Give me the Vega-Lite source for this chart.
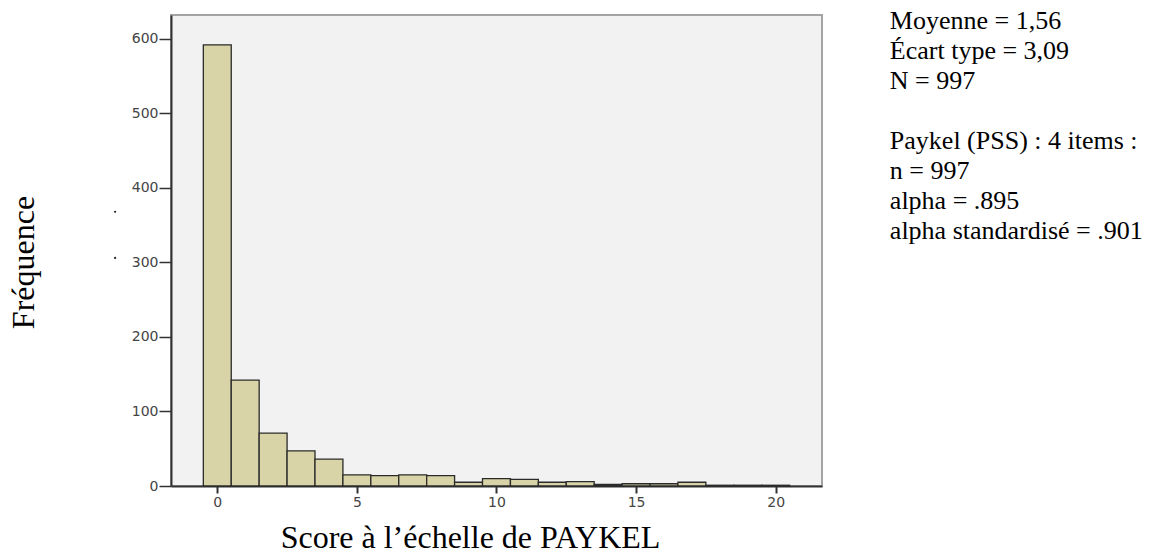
{
  "$schema": "https://vega.github.io/schema/vega-lite/v6.json",
  "autosize": {"type": "none"},
  "padding": {"left": 171, "top": 15, "right": 332, "bottom": 67},
  "width": 651,
  "height": 471,
  "background": "white",
  "config": {"view": {"fill": "#f2f2f2", "stroke": "#a3a3a3", "strokeWidth": 2}},
  "title": {"text": "Histogram", "font": "DejaVu Sans", "fontSize": 20, "fontWeight": "bold", "color": "#222", "anchor": "middle", "frame": "group", "dx": 60, "offset": 7, "baseline": "alphabetic"},
  "datasets": {
    "hist": [
      {"score": 0, "lo": -0.5, "hi": 0.5, "n": 592},
      {"score": 1, "lo": 0.5, "hi": 1.5, "n": 142},
      {"score": 2, "lo": 1.5, "hi": 2.5, "n": 71},
      {"score": 3, "lo": 2.5, "hi": 3.5, "n": 47},
      {"score": 4, "lo": 3.5, "hi": 4.5, "n": 36},
      {"score": 5, "lo": 4.5, "hi": 5.5, "n": 15},
      {"score": 6, "lo": 5.5, "hi": 6.5, "n": 14},
      {"score": 7, "lo": 6.5, "hi": 7.5, "n": 15},
      {"score": 8, "lo": 7.5, "hi": 8.5, "n": 14},
      {"score": 9, "lo": 8.5, "hi": 9.5, "n": 5},
      {"score": 10, "lo": 9.5, "hi": 10.5, "n": 10},
      {"score": 11, "lo": 10.5, "hi": 11.5, "n": 9},
      {"score": 12, "lo": 11.5, "hi": 12.5, "n": 5},
      {"score": 13, "lo": 12.5, "hi": 13.5, "n": 6},
      {"score": 14, "lo": 13.5, "hi": 14.5, "n": 2},
      {"score": 15, "lo": 14.5, "hi": 15.5, "n": 3},
      {"score": 16, "lo": 15.5, "hi": 16.5, "n": 3},
      {"score": 17, "lo": 16.5, "hi": 17.5, "n": 5},
      {"score": 18, "lo": 17.5, "hi": 18.5, "n": 1},
      {"score": 19, "lo": 18.5, "hi": 19.5, "n": 1},
      {"score": 20, "lo": 19.5, "hi": 20.5, "n": 1}
    ],
    "dots": [
      {"x": -3.66, "y": 368},
      {"x": -3.66, "y": 306}
    ],
    "stats": [
      {"line": 0, "label": "Moyenne = 1,56"},
      {"line": 1, "label": "Écart type = 3,09"},
      {"line": 2, "label": "N = 997"},
      {"line": 4, "label": "Paykel (PSS) : 4 items :"},
      {"line": 5, "label": "n = 997"},
      {"line": 6, "label": "alpha = .895"},
      {"line": 7, "label": "alpha standardisé = .901"}
    ]
  },
  "layer": [
    {
      "layer": [
        {
          "data": {"name": "hist"},
          "mark": {"type": "rect", "fill": "#d8d4a7", "stroke": "#2b2b2b", "strokeWidth": 1.3},
          "encoding": {
            "x": {
              "field": "lo", "type": "quantitative",
              "scale": {"domain": [-1.658, 21.66], "nice": false, "zero": false},
              "axis": {
                "values": [0, 5, 10, 15, 20], "format": "d",
                "title": "Score à l’échelle de PAYKEL",
                "titleFont": "Liberation Serif", "titleFontSize": 32, "titleFontWeight": "normal", "titleColor": "#000",
                "titleX": 299, "titleY": 61, "titleAlign": "center", "titleBaseline": "alphabetic",
                "labelFont": "DejaVu Sans", "labelFontSize": 14, "labelColor": "#444", "labelPadding": 2,
                "tickSize": 7, "tickWidth": 2, "tickColor": "#333",
                "domainColor": "#333", "domainWidth": 2, "grid": false, "labelFlush": false
              }
            },
            "x2": {"field": "hi"},
            "y": {
              "field": "n", "type": "quantitative",
              "scale": {"domain": [0, 632], "nice": false},
              "axis": {
                "values": [0, 100, 200, 300, 400, 500, 600], "format": "d",
                "title": "Fréquence",
                "titleFont": "Liberation Serif", "titleFontSize": 32, "titleFontWeight": "normal", "titleColor": "#000",
                "titleX": -148, "titleY": 247, "titleAngle": 270, "titleAlign": "center", "titleBaseline": "middle",
                "labelFont": "DejaVu Sans", "labelFontSize": 14, "labelColor": "#444", "labelPadding": 1,
                "tickSize": 12, "tickWidth": 1.5, "tickColor": "#333",
                "domainColor": "#333", "domainWidth": 2, "grid": false
              }
            }
          }
        },
        {
          "data": {"name": "dots"},
          "mark": {"type": "point", "filled": true, "size": 5, "color": "#222", "opacity": 1},
          "encoding": {
            "x": {"field": "x", "type": "quantitative"},
            "y": {"field": "y", "type": "quantitative"}
          }
        }
      ]
    },
    {
      "data": {"name": "stats"},
      "mark": {"type": "text", "align": "left", "baseline": "alphabetic", "font": "Liberation Serif", "fontSize": 26, "color": "#000"},
      "encoding": {
        "x": {"datum": 24.09, "type": "quantitative"},
        "y": {"field": "line", "type": "quantitative", "scale": {"domain": [-0.4667, 15.233], "reverse": true, "nice": false, "zero": false}, "axis": null},
        "text": {"field": "label"}
      }
    }
  ],
  "resolve": {"scale": {"y": "independent"}}
}
